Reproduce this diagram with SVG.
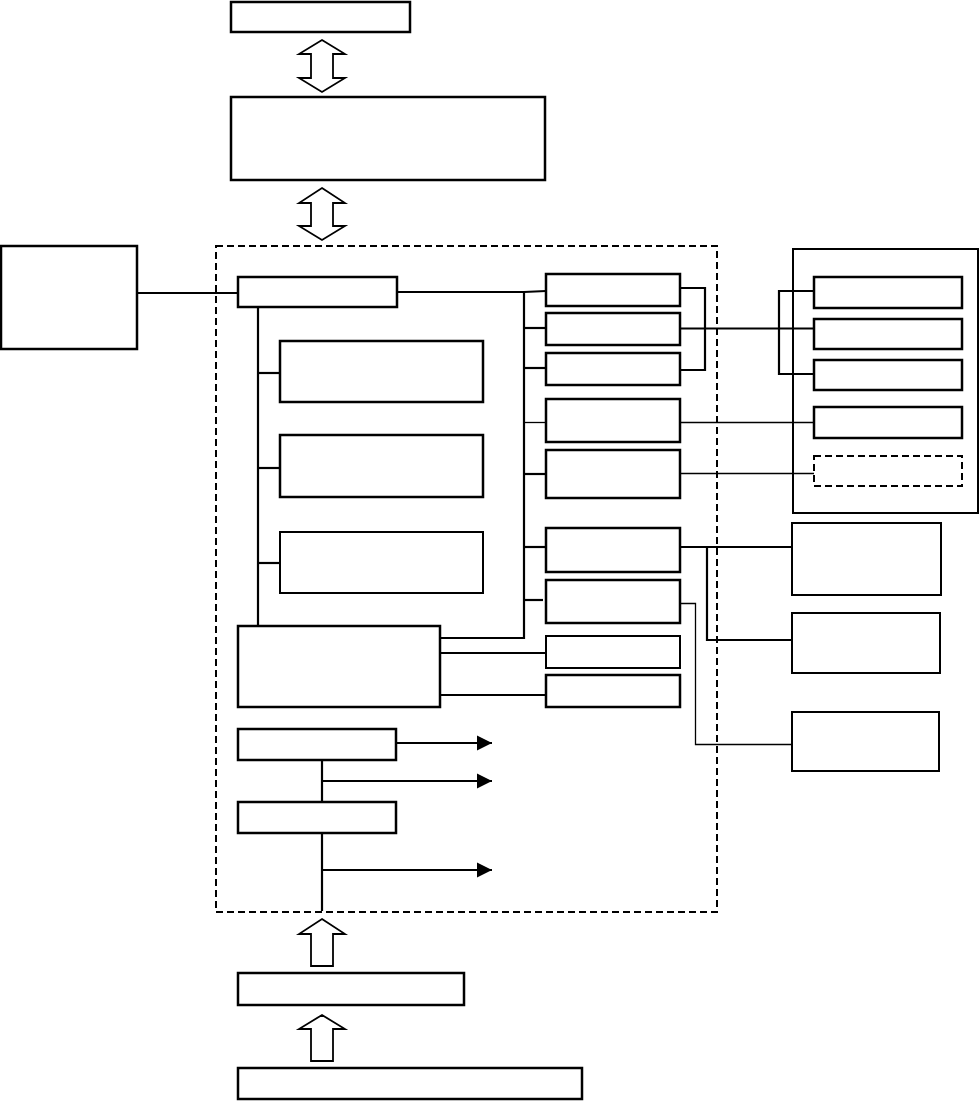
<svg xmlns="http://www.w3.org/2000/svg" width="980" height="1101" viewBox="0 0 980 1101">
<style>
.b{fill:#fff;stroke:#000;stroke-width:2.5}
.bt{fill:#fff;stroke:#000;stroke-width:2}
.d{fill:none;stroke:#000;stroke-width:2;stroke-dasharray:7 4}
.c{fill:none;stroke:#000;stroke-width:2.2}
.t{fill:none;stroke:#000;stroke-width:1.3}
.h{fill:#fff;stroke:#000;stroke-width:1.8;stroke-linejoin:miter}
</style>
<defs>
<marker id="ah" markerUnits="userSpaceOnUse" markerWidth="16" markerHeight="16" viewBox="0 0 16 16" refX="15" refY="8" orient="auto">
<path d="M0,0.5 L15,8 L0,15.5 Z" fill="#000"/>
</marker>
</defs>
<rect width="980" height="1101" fill="#fff"/>
<g id="container">
<rect x="216" y="246" width="501" height="666" class="d"/>
</g>
<g id="rightContainer"><rect x="793" y="249" width="185" height="264" class="bt"/></g>
<g id="connectors">
<polyline class="c" points="137,293 238,293"/>
<polyline class="c" points="397,292 524,292 546,291"/>
<polyline class="c" points="524,292 524,638 440,638"/>
<polyline class="c" points="258,308 258,626"/>
<polyline class="c" points="258,373 280,373"/>
<polyline class="c" points="258,468 280,468"/>
<polyline class="c" points="258,563 280,563"/>
<polyline class="c" points="524,328 546,328"/>
<polyline class="c" points="524,368 546,368"/>
<polyline class="t" points="524,422.5 546,422.5"/>
<polyline class="c" points="524,474 546,474"/>
<polyline class="c" points="524,547 546,547"/>
<polyline class="c" points="524,600 543,600"/>
<polyline class="c" points="440,653 546,653"/>
<polyline class="c" points="440,695 546,695"/>
<polyline class="c" points="680,288 705,288 705,370 680,370"/>
<polyline class="c" points="680,328.5 813,328.5"/>
<polyline class="c" points="814,291 779,291 779,374 814,374"/>
<polyline class="t" points="680,422.5 814,422.5"/>
<polyline class="t" points="680,473.5 814,473.5"/>
<polyline class="c" points="680,547 792,547"/>
<polyline class="c" points="707,547 707,640 792,640"/>
<polyline class="t" points="680,603.5 695.5,603.5 695.5,744.5 792,744.5"/>
<polyline class="c" points="396,743 492,743" marker-end="url(#ah)"/>
<polyline class="c" points="322,760 322,802"/>
<polyline class="c" points="322,781 492,781" marker-end="url(#ah)"/>
<polyline class="c" points="322,833 322,911"/>
<polyline class="c" points="322,870 492,870" marker-end="url(#ah)"/>
<path class="h" d="M322,40 L345,54 L333,54 L333,78 L345,78 L322,92 L299,78 L311,78 L311,54 L299,54 Z"/>
<path class="h" d="M322,188 L345,203 L333,203 L333,226 L345,226 L322,240 L299,226 L311,226 L311,203 L299,203 Z"/>
<path class="h" d="M322,919 L345,934 L333,934 L333,966 L311,966 L311,934 L299,934 Z"/>
<path class="h" d="M322,1015 L345,1029 L333,1029 L333,1061 L311,1061 L311,1029 L299,1029 Z"/>
</g>
<g id="n-top"><rect x="231" y="2" width="179" height="30" class="b"/></g>
<g id="n-second"><rect x="231" y="97" width="314" height="83" class="b"/></g>
<g id="n-left"><rect x="1" y="246" width="136" height="103" class="b"/></g>
<g id="n-a"><rect x="238" y="277" width="159" height="30" class="b"/></g>
<g id="n-i1"><rect x="280" y="341" width="203" height="61" class="b"/></g>
<g id="n-i2"><rect x="280" y="435" width="203" height="62" class="b"/></g>
<g id="n-i3"><rect x="280" y="532" width="203" height="61" class="bt"/></g>
<g id="n-big"><rect x="238" y="626" width="202" height="81" class="b"/></g>
<g id="n-r1"><rect x="546" y="274" width="134" height="32" class="b"/></g>
<g id="n-r2"><rect x="546" y="313" width="134" height="32" class="b"/></g>
<g id="n-r3"><rect x="546" y="353" width="134" height="32" class="b"/></g>
<g id="n-r4"><rect x="546" y="399" width="134" height="43" class="b"/></g>
<g id="n-r5"><rect x="546" y="450" width="134" height="48" class="b"/></g>
<g id="n-r6"><rect x="546" y="528" width="134" height="44" class="b"/></g>
<g id="n-r7"><rect x="546" y="580" width="134" height="43" class="b"/></g>
<g id="n-r8"><rect x="546" y="636" width="134" height="32" class="bt"/></g>
<g id="n-r9"><rect x="546" y="675" width="134" height="32" class="b"/></g>
<g id="n-b1"><rect x="814" y="277" width="148" height="31" class="b"/></g>
<g id="n-b2"><rect x="814" y="319" width="148" height="30" class="b"/></g>
<g id="n-b3"><rect x="814" y="360" width="148" height="30" class="b"/></g>
<g id="n-b4"><rect x="814" y="407" width="148" height="31" class="b"/></g>
<g id="n-b5"><rect x="814" y="456" width="148" height="30" class="d"/></g>
<g id="n-c1"><rect x="792" y="523" width="149" height="72" class="bt"/></g>
<g id="n-c2"><rect x="792" y="613" width="148" height="60" class="bt"/></g>
<g id="n-c3"><rect x="792" y="712" width="147" height="59" class="bt"/></g>
<g id="n-l1"><rect x="238" y="729" width="158" height="31" class="b"/></g>
<g id="n-l2"><rect x="238" y="802" width="158" height="31" class="b"/></g>
<g id="n-l3"><rect x="238" y="973" width="226" height="32" class="b"/></g>
<g id="n-l4"><rect x="238" y="1068" width="344" height="31" class="b"/></g>
</svg>
